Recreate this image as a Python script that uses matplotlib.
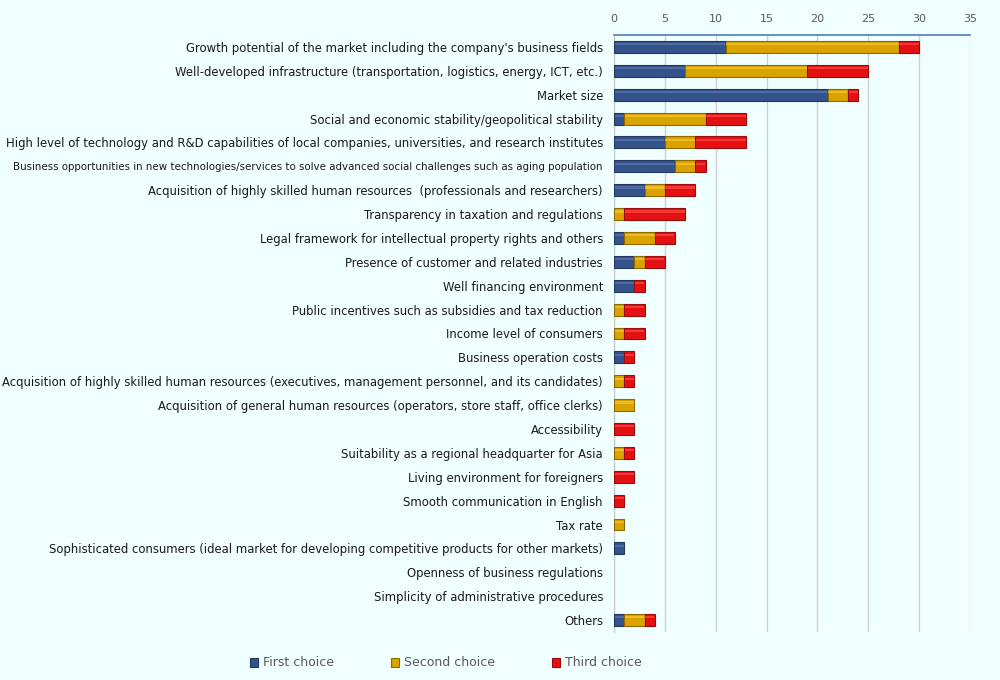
import matplotlib
matplotlib.use("Agg")
import matplotlib.pyplot as plt
import numpy as np

categories = [
    "Growth potential of the market including the company's business fields",
    "Well-developed infrastructure (transportation, logistics, energy, ICT, etc.)",
    "Market size",
    "Social and economic stability/geopolitical stability",
    "High level of technology and R&D capabilities of local companies, universities, and research institutes",
    "Business opportunities in new technologies/services to solve advanced social challenges such as aging population",
    "Acquisition of highly skilled human resources  (professionals and researchers)",
    "Transparency in taxation and regulations",
    "Legal framework for intellectual property rights and others",
    "Presence of customer and related industries",
    "Well financing environment",
    "Public incentives such as subsidies and tax reduction",
    "Income level of consumers",
    "Business operation costs",
    "Acquisition of highly skilled human resources (executives, management personnel, and its candidates)",
    "Acquisition of general human resources (operators, store staff, office clerks)",
    "Accessibility",
    "Suitability as a regional headquarter for Asia",
    "Living environment for foreigners",
    "Smooth communication in English",
    "Tax rate",
    "Sophisticated consumers (ideal market for developing competitive products for other markets)",
    "Openness of business regulations",
    "Simplicity of administrative procedures",
    "Others",
]
first_choice  = [11, 7, 21, 1, 5, 6, 3, 0, 1, 2, 2, 0, 0, 1, 0, 0, 0, 0, 0, 0, 0, 1, 0, 0, 1]
second_choice = [17, 12, 2, 8, 3, 2, 2, 1, 3, 1, 0, 1, 1, 0, 1, 2, 0, 1, 0, 0, 1, 0, 0, 0, 2]
third_choice  = [2, 6, 1, 4, 5, 1, 3, 6, 2, 2, 1, 2, 2, 1, 1, 0, 2, 1, 2, 1, 0, 0, 0, 0, 1]
series_names = ["First choice", "Second choice", "Third choice"]
xticks = [0, 5, 10, 15, 20, 25, 30, 35]

bg = "#F0FFFF"
colors = ["#34538A", "#DBA300", "#E31111"]
edges = ["#22375E", "#8F6A00", "#9A0B0B"]
highlights = ["#5A78AE", "#F5C936", "#FF4A4A"]

fig = plt.figure(figsize=(10, 6.8), dpi=100, facecolor=bg)
ax = fig.add_axes([0.614, 0.0706, 0.356, 0.878])
ax.set_facecolor(bg)

y = np.arange(len(categories))
h = 0.5
left = np.zeros(len(categories))
handles = []
for vals, c, e, hl, name in zip([first_choice, second_choice, third_choice], colors, edges, highlights, series_names):
    vals = np.array(vals, dtype=float)
    lw = [0.8 if v > 0 else 0 for v in vals]
    b = ax.barh(y, vals, left=left, height=h, color=c, edgecolor=e, linewidth=lw, zorder=3, label=name)
    # highlight band for bevel look
    ax.barh(y - h * 0.22, np.where(vals > 0, vals - 0.12, 0), left=left + np.where(vals > 0, 0.06, 0),
            height=h * 0.18, color=hl, linewidth=0, zorder=4, alpha=0.7)
    handles.append(b)
    left += vals

ax.set_xlim(0, 35)
ax.set_ylim(len(categories) - 0.5, -0.5)
ax.set_xticks(xticks)
ax.xaxis.tick_top()
ax.tick_params(axis="x", length=0, labelsize=8, labelcolor="#595959", pad=8)
ax.tick_params(axis="y", length=0, pad=8)
ax.set_yticks(y)
ax.set_yticklabels(categories, fontsize=8.4, color="#1a1a1a")
for lbl in ax.get_yticklabels():
    if lbl.get_text().startswith("Business opportunities"):
        lbl.set_fontsize(7.4)
ax.grid(axis="x", color="#D0D0D0", linewidth=1, zorder=0)
for s in ["right", "bottom"]:
    ax.spines[s].set_visible(False)
ax.spines["left"].set_color("#C8C8C8")
ax.spines["top"].set_color("#4F7EBD")
ax.spines["top"].set_linewidth(1.2)

fig.legend(handles=handles, labels=series_names, loc="center", bbox_to_anchor=(0.446, 0.025),
           ncol=3, frameon=False, fontsize=9, handlelength=0.6, handleheight=0.7,
           handletextpad=0.4, columnspacing=4.6, labelcolor="#595959")

fig.savefig("out.png", dpi=100, facecolor=bg)
